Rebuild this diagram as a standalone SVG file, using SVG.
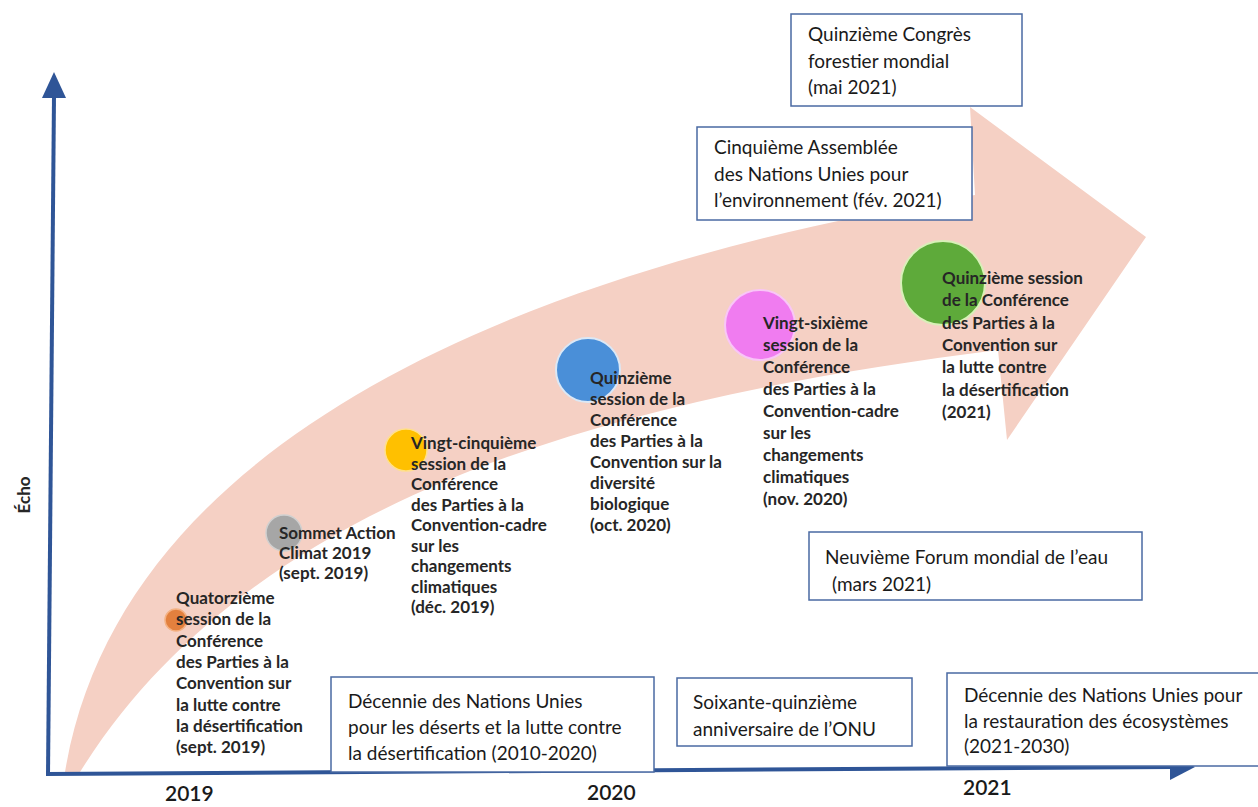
<svg xmlns="http://www.w3.org/2000/svg" width="1258" height="807" viewBox="0 0 1258 807">
<style>
.lbl{font-family:Lato,"Liberation Sans",sans-serif;font-weight:700;font-size:17px;fill:#262626}
.box{fill:#fff;stroke:#4a6aa3;stroke-width:1.5}
.btx{font-family:Lato,"Liberation Sans",sans-serif;font-weight:400;font-size:19px;fill:#1a1a1a}
.yr{font-family:Lato,"Liberation Sans",sans-serif;font-weight:600;font-size:21px;fill:#1a1a1a}
.axis{stroke:#2f5597;stroke-width:4;fill:none}
.ah{fill:#2f5597}
</style>
<rect width="1258" height="807" fill="#fff"/>
<g id="trend-arrow">
<path d="M65 772 C120 440 520 270 975 195 L970 107 L1146 237 L1007 440 L998 350 C600 400 250 500 80 772 Z" fill="#f5d0c4"/>
</g>
<g id="connectors">
<line class="axis" x1="48" y1="775" x2="54" y2="96"/>
<polygon class="ah" points="54,72 42,98 66,98"/>
<line class="axis" x1="46" y1="774" x2="1172" y2="767"/>
<polygon class="ah" points="1195,767 1170,754 1170,780"/>
</g>
<g id="axis-labels">
<text class="lbl" transform="translate(30,495) rotate(-90)" text-anchor="middle">Écho</text>
<text class="yr" x="165" y="801">2019</text>
<text class="yr" x="587" y="800">2020</text>
<text class="yr" x="963" y="795">2021</text>
</g>
<g id="n-cop14-unccd">
<circle cx="176" cy="620" r="11" fill="#e3803e" stroke="#f4b183" stroke-width="1.5"/>
<text class="lbl" x="176" y="604"><tspan x="176">Quatorzième</tspan><tspan x="176" dy="21.3">session de la</tspan><tspan x="176" dy="21.3">Conférence</tspan><tspan x="176" dy="21.3">des Parties à la</tspan><tspan x="176" dy="21.3">Convention sur</tspan><tspan x="176" dy="21.3">la lutte contre</tspan><tspan x="176" dy="21.3">la désertification</tspan><tspan x="176" dy="21.3">(sept. 2019)</tspan></text>
</g>
<g id="n-climate-summit">
<circle cx="284" cy="533" r="18" fill="#a6a6a6" stroke="#d0d0d0" stroke-width="1.5"/>
<text class="lbl" x="279" y="539"><tspan x="279">Sommet Action</tspan><tspan x="279" dy="20">Climat 2019</tspan><tspan x="279" dy="20">(sept. 2019)</tspan></text>
</g>
<g id="n-cop25">
<circle cx="406" cy="450" r="21" fill="#ffc000" stroke="#ffe08a" stroke-width="1.5"/>
<text class="lbl" x="411" y="449"><tspan x="411">Vingt-cinquième</tspan><tspan x="411" dy="20.5">session de la</tspan><tspan x="411" dy="20.5">Conférence</tspan><tspan x="411" dy="20.5">des Parties à la</tspan><tspan x="411" dy="20.5">Convention-cadre</tspan><tspan x="411" dy="20.5">sur les</tspan><tspan x="411" dy="20.5">changements</tspan><tspan x="411" dy="20.5">climatiques</tspan><tspan x="411" dy="20.5">(déc. 2019)</tspan></text>
</g>
<g id="n-cop15-cbd">
<circle cx="588" cy="370" r="32" fill="#4a8fd8" stroke="#dbe8f6" stroke-width="2"/>
<text class="lbl" x="590" y="384"><tspan x="590">Quinzième</tspan><tspan x="590" dy="21">session de la</tspan><tspan x="590" dy="21">Conférence</tspan><tspan x="590" dy="21">des Parties à la</tspan><tspan x="590" dy="21">Convention sur la</tspan><tspan x="590" dy="21">diversité</tspan><tspan x="590" dy="21">biologique</tspan><tspan x="590" dy="21">(oct. 2020)</tspan></text>
</g>
<g id="n-cop26">
<circle cx="760" cy="325" r="35" fill="#f07cf0" stroke="#f9c6f7" stroke-width="2"/>
<text class="lbl" x="763" y="329"><tspan x="763">Vingt-sixième</tspan><tspan x="763" dy="22">session de la</tspan><tspan x="763" dy="22">Conférence</tspan><tspan x="763" dy="22">des Parties à la</tspan><tspan x="763" dy="22">Convention-cadre</tspan><tspan x="763" dy="22">sur les</tspan><tspan x="763" dy="22">changements</tspan><tspan x="763" dy="22">climatiques</tspan><tspan x="763" dy="22">(nov. 2020)</tspan></text>
</g>
<g id="n-cop15-unccd">
<circle cx="943" cy="283" r="42" fill="#5eaa3a" stroke="#d8f0b8" stroke-width="2"/>
<text class="lbl" x="942" y="284"><tspan x="942">Quinzième session</tspan><tspan x="942" dy="22.3">de la Conférence</tspan><tspan x="942" dy="22.3">des Parties à la</tspan><tspan x="942" dy="22.3">Convention sur</tspan><tspan x="942" dy="22.3">la lutte contre</tspan><tspan x="942" dy="22.3">la désertification</tspan><tspan x="942" dy="22.3">(2021)</tspan></text>
</g>
<g id="n-forestry-congress">
<rect class="box" x="791" y="14" width="231" height="92"/>
<text class="btx" x="808" y="41"><tspan x="808">Quinzième Congrès</tspan><tspan x="808" dy="26.5">forestier mondial</tspan><tspan x="808" dy="26">(mai 2021)</tspan></text>
</g>
<g id="n-unea5">
<rect class="box" x="697" y="127" width="275" height="93"/>
<text class="btx" x="714" y="154"><tspan x="714">Cinquième Assemblée</tspan><tspan x="714" dy="26.5">des Nations Unies pour</tspan><tspan x="714" dy="26">l’environnement  (fév. 2021)</tspan></text>
</g>
<g id="n-water-forum">
<rect class="box" x="809" y="532" width="333" height="68"/>
<text class="btx" x="825" y="564"><tspan x="825">Neuvième Forum mondial de l’eau</tspan><tspan x="832" dy="27">(mars 2021)</tspan></text>
</g>
<g id="n-decade-deserts">
<rect class="box" x="331" y="677" width="323" height="95"/>
<text class="btx" x="348" y="708"><tspan x="348">Décennie des Nations Unies</tspan><tspan x="348" dy="26">pour  les déserts et la lutte contre</tspan><tspan x="348" dy="25.5">la désertification  (2010-2020)</tspan></text>
</g>
<g id="n-un75">
<rect class="box" x="677" y="678" width="235" height="68"/>
<text class="btx" x="693" y="709"><tspan x="693">Soixante-quinzième</tspan><tspan x="693" dy="27">anniversaire de l’ONU</tspan></text>
</g>
<g id="n-decade-restoration">
<rect class="box" x="947" y="673" width="320" height="93"/>
<text class="btx" x="964" y="702"><tspan x="964">Décennie des Nations Unies pour</tspan><tspan x="964" dy="26">la restauration  des écosystèmes</tspan><tspan x="964" dy="25">(2021-2030)</tspan></text>
</g>
</svg>
